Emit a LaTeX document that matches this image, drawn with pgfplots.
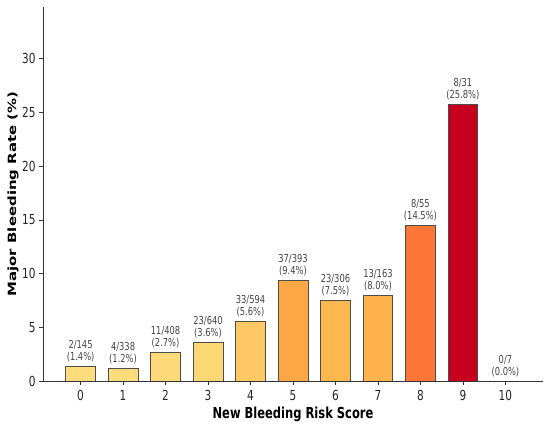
\documentclass[border=0pt]{standalone}
\usepackage{fontspec}
\setmainfont{DejaVu Sans}[FakeStretch=0.76]
\newfontfamily\plainfont{DejaVu Sans}
\usepackage{graphicx}
\usepackage{pgfplots}
\pgfplotsset{compat=1.18}
\definecolor{c0}{HTML}{FEDC7E}
\definecolor{c1}{HTML}{FEDC7E}
\definecolor{c2}{HTML}{FED977}
\definecolor{c3}{HTML}{FED775}
\definecolor{c4}{HTML}{FEC864}
\definecolor{c5}{HTML}{FDA745}
\definecolor{c6}{HTML}{FEB64E}
\definecolor{c7}{HTML}{FEB34C}
\definecolor{c8}{HTML}{FD7636}
\definecolor{c9}{HTML}{C8001F}
\definecolor{c10}{HTML}{FFFFCC}
\definecolor{spine}{HTML}{333333}
\definecolor{lbl}{HTML}{444444}
\begin{document}
\begin{tikzpicture}
\begin{axis}[
  at={(0,0)}, anchor=south west,
  scale only axis,
  width=500bp, height=374bp,
  xmin=-0.885, xmax=10.885,
  ymin=0, ymax=34.83,
  axis x line*=bottom, axis y line*=left,
  axis line style={spine, line width=0.9pt},
  xtick={0,1,2,3,4,5,6,7,8,9,10},
  ytick={0,5,10,15,20,25,30},
  tick style={spine, line width=0.8pt},
  tick align=outside,
  major tick length=3.5bp,
  minor tick num=0,
  /pgf/number format/assume math mode=true,
  ticklabel style={font=\fontsize{13.9}{16}\selectfont, text=black!85},
  xticklabel style={yshift=-2bp},
  yticklabel style={xshift=-0.5bp},
  xlabel={\textbf{New Bleeding Risk Score}},
  ylabel={\scalebox{1}[0.76]{\plainfont\bfseries Major Bleeding Rate (\%)}},
  xlabel style={font=\fontsize{15.2}{17}\selectfont, at={(axis description cs:0.5,-0.1016)}, anchor=base},
  ylabel style={font=\fontsize{15}{17}\selectfont, at={(axis description cs:-0.06,0.5)}, anchor=center},
  ybar, bar width=0.7, bar shift=0pt,
  every axis plot/.append style={draw=black!70, line width=0.7pt},
  nodes near coords,
  point meta=explicit symbolic,
  every node near coord/.append style={font=\fontsize{11}{12}\selectfont, text=lbl, align=center, anchor=south, yshift=0.5bp},
]
\addplot[fill=c0] coordinates {(0,1.4) [2/145\\(1.4\%)]};
\addplot[fill=c1] coordinates {(1,1.2) [4/338\\(1.2\%)]};
\addplot[fill=c2] coordinates {(2,2.7) [11/408\\(2.7\%)]};
\addplot[fill=c3] coordinates {(3,3.6) [23/640\\(3.6\%)]};
\addplot[fill=c4] coordinates {(4,5.6) [33/594\\(5.6\%)]};
\addplot[fill=c5] coordinates {(5,9.4) [37/393\\(9.4\%)]};
\addplot[fill=c6] coordinates {(6,7.5) [23/306\\(7.5\%)]};
\addplot[fill=c7] coordinates {(7,8.0) [13/163\\(8.0\%)]};
\addplot[fill=c8] coordinates {(8,14.5) [8/55\\(14.5\%)]};
\addplot[fill=c9] coordinates {(9,25.8) [8/31\\(25.8\%)]};
\addplot[fill=c10, draw=none] coordinates {(10,0) [0/7\\(0.0\%)]};
\end{axis}
\pgfresetboundingbox
\path (-43bp,-48bp) rectangle (507bp,381bp);
\end{tikzpicture}
\end{document}
